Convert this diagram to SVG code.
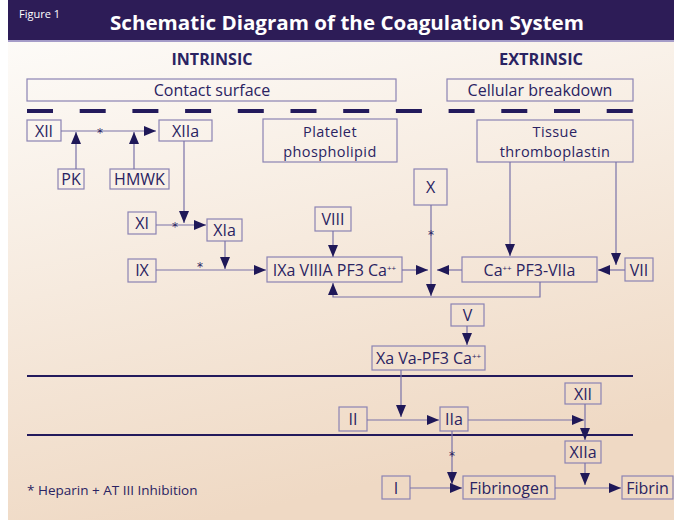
<svg xmlns="http://www.w3.org/2000/svg" width="674" height="520" viewBox="0 0 674 520">
<defs>
<linearGradient id="bg" x1="0" y1="0" x2="0.3" y2="1">
<stop offset="0" stop-color="#fdfbf8"/>
<stop offset="1" stop-color="#efd9c4"/>
</linearGradient>
<marker id="ah" markerUnits="userSpaceOnUse" markerWidth="12" markerHeight="10" refX="12" refY="5" orient="auto">
<path d="M0,0 L12,5 L0,10 z" fill="#1f1858"/>
</marker>
<style>
.box{fill:none;stroke:#8b83b3;stroke-width:1.2}
.t{font-family:"Open Sans","Liberation Sans",sans-serif;font-size:16px;fill:#2a2362;text-anchor:middle}
.t2{font-size:14.5px;letter-spacing:0.4px}
.c{fill:none;stroke:#7a72a8;stroke-width:1.2;marker-end:url(#ah)}
.star{font-family:"DejaVu Sans",sans-serif;font-size:12px;fill:#2a2362;text-anchor:middle}
.sup{font-size:8px}
.h{font-family:"Open Sans","Liberation Sans",sans-serif;font-size:16.5px;font-weight:bold;fill:#2a2362;text-anchor:middle}
</style>
</defs>
<rect x="0" y="0" width="674" height="520" fill="#ffffff"/>
<rect x="8" y="40" width="666" height="480" fill="url(#bg)"/>
<rect x="8" y="0" width="666" height="40" fill="#2d1c57"/>
<rect x="8" y="40" width="666" height="2" fill="#a59cc8"/>
<text x="19" y="18" font-family="Open Sans, Liberation Sans, sans-serif" font-size="11" fill="#ffffff">Figure 1</text>
<text x="110" y="30" font-family="Open Sans, Liberation Sans, sans-serif" font-size="20" font-weight="bold" fill="#ffffff" textLength="474" lengthAdjust="spacingAndGlyphs">Schematic Diagram of the Coagulation System</text>
<text class="h" x="212" y="65" textLength="81" lengthAdjust="spacingAndGlyphs">INTRINSIC</text>
<text class="h" x="541" y="65" textLength="84" lengthAdjust="spacingAndGlyphs">EXTRINSIC</text>
<g id="contact"><rect class="box" x="27" y="79" width="369" height="22"/><text class="t" x="212" y="96">Contact surface</text></g>
<g id="cellular"><rect class="box" x="447" y="79" width="186" height="22"/><text class="t" x="540" y="96">Cellular breakdown</text></g>
<line x1="27" y1="111" x2="633" y2="111" stroke="#231a5c" stroke-width="4" stroke-dasharray="26 26.7"/>
<line x1="27" y1="376" x2="633" y2="376" stroke="#231a5c" stroke-width="2"/>
<line x1="27" y1="435" x2="633" y2="435" stroke="#231a5c" stroke-width="2"/>
<g id="xii"><rect class="box" x="27" y="120" width="34" height="21"/><text class="t" x="44" y="136.5">XII</text></g>
<g id="xiia"><rect class="box" x="159" y="120" width="53" height="21"/><text class="t" x="185.5" y="136.5">XIIa</text></g>
<g id="pk"><rect class="box" x="58" y="169" width="26" height="20"/><text class="t" x="71" y="185">PK</text></g>
<g id="hmwk"><rect class="box" x="110" y="169" width="59" height="20"/><text class="t" x="139.5" y="185">HMWK</text></g>
<g id="xi"><rect class="box" x="128" y="212" width="28" height="22"/><text class="t" x="142" y="228.5">XI</text></g>
<g id="xia"><rect class="box" x="207" y="219" width="35" height="22"/><text class="t" x="224.5" y="235.5">XIa</text></g>
<g id="ix"><rect class="box" x="128" y="259" width="28" height="23"/><text class="t" x="142" y="276">IX</text></g>
<g id="platelet"><rect class="box" x="263" y="119" width="134" height="43"/><text class="t t2" x="330" y="136.5">Platelet</text><text class="t t2" x="330" y="156.5">phospholipid</text></g>
<g id="viii"><rect class="box" x="315" y="207" width="36" height="24"/><text class="t" x="333" y="224.5">VIII</text></g>
<g id="ixa"><rect class="box" x="267" y="257" width="135" height="25"/><text class="t" x="334.5" y="275.5">IXa VIIIA PF3 Ca<tspan class="sup" dy="-5">++</tspan></text></g>
<g id="x"><rect class="box" x="414" y="169" width="33" height="36"/><text class="t" x="430.5" y="193">X</text></g>
<g id="tissue"><rect class="box" x="477" y="120" width="156" height="42"/><text class="t t2" x="555" y="137">Tissue</text><text class="t t2" x="555" y="157">thromboplastin</text></g>
<g id="ca"><rect class="box" x="462" y="257" width="135" height="25"/><text class="t" x="529.5" y="275.5">Ca<tspan class="sup" dy="-5">++</tspan><tspan dy="5"> PF3-VIIa</tspan></text></g>
<g id="vii"><rect class="box" x="625" y="258" width="28" height="23"/><text class="t" x="639" y="275.5">VII</text></g>
<g id="v"><rect class="box" x="451" y="304" width="33" height="22"/><text class="t" x="467.5" y="320.5">V</text></g>
<g id="xava"><rect class="box" x="372" y="346" width="113" height="24"/><text class="t" x="428.5" y="363.5">Xa Va-PF3 Ca<tspan class="sup" dy="-5">++</tspan></text></g>
<g id="ii"><rect class="box" x="339" y="407" width="28" height="24"/><text class="t" x="353" y="424.5">II</text></g>
<g id="iia"><rect class="box" x="440" y="407" width="28" height="24"/><text class="t" x="454" y="424.5">IIa</text></g>
<g id="xii2"><rect class="box" x="565" y="383" width="36" height="21"/><text class="t" x="583" y="399.5">XII</text></g>
<g id="xiia2"><rect class="box" x="565" y="441" width="36" height="22"/><text class="t" x="583" y="457.5">XIIa</text></g>
<g id="i"><rect class="box" x="382" y="476" width="28" height="23"/><text class="t" x="396" y="493.5">I</text></g>
<g id="fibrinogen"><rect class="box" x="463" y="476" width="92" height="23"/><text class="t" x="509" y="493.5">Fibrinogen</text></g>
<g id="fibrin"><rect class="box" x="622" y="476" width="51" height="23"/><text class="t" x="647.5" y="493.5">Fibrin</text></g>
<g id="connectors">
<line class="c" x1="61" y1="131" x2="156" y2="131"/>
<line class="c" x1="76" y1="169" x2="76" y2="132"/>
<line class="c" x1="134" y1="169" x2="134" y2="132"/>
<line class="c" x1="184" y1="141" x2="184" y2="223"/>
<line class="c" x1="156" y1="225" x2="206" y2="225"/>
<line class="c" x1="225" y1="241" x2="225" y2="269"/>
<line class="c" x1="156" y1="270" x2="266" y2="270"/>
<line class="c" x1="333" y1="231" x2="333" y2="257"/>
<line class="c" x1="402" y1="270" x2="428" y2="270"/>
<line class="c" x1="462" y1="270" x2="437" y2="270"/>
<line class="c" x1="431" y1="205" x2="431" y2="296"/>
<polyline class="c" points="540,282 540,297 333,297 333,283"/>
<line class="c" x1="510" y1="162" x2="510" y2="256"/>
<line class="c" x1="616" y1="162" x2="616" y2="265"/>
<line class="c" x1="625" y1="270" x2="598" y2="270"/>
<line class="c" x1="467" y1="326" x2="467" y2="345"/>
<line class="c" x1="401" y1="370" x2="401" y2="417"/>
<line class="c" x1="367" y1="420" x2="439" y2="420"/>
<line class="c" x1="468" y1="420" x2="584" y2="420"/>
<line class="c" x1="585" y1="404" x2="585" y2="440"/>
<line class="c" x1="452" y1="431" x2="452" y2="484"/>
<line class="c" x1="410" y1="488" x2="462" y2="488"/>
<line class="c" x1="555" y1="488" x2="621" y2="488"/>
<line class="c" x1="585" y1="463" x2="585" y2="485"/>
<text class="star" x="100" y="137">*</text>
<text class="star" x="175" y="231">*</text>
<text class="star" x="200" y="271">*</text>
<text class="star" x="431" y="239">*</text>
<text class="star" x="452" y="460">*</text>
</g>
<text x="27" y="495" font-family="Open Sans, Liberation Sans, sans-serif" font-size="13.5" fill="#2a2362">* Heparin + AT III Inhibition</text>
</svg>
